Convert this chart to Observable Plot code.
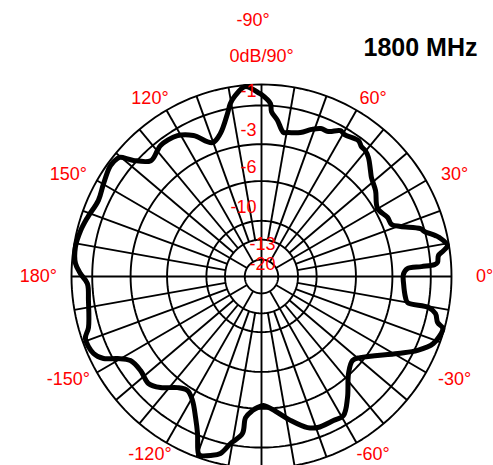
<!DOCTYPE html>
<html>
<head>
<meta charset="utf-8">
<script src="https://cdn.jsdelivr.net/npm/d3@7"></script>
<script src="https://cdn.jsdelivr.net/npm/@observablehq/plot@0.6"></script>
<style>
  html, body { margin: 0; padding: 0; background: #fff; }
  #chart { width: 493px; height: 465px; overflow: hidden; }
</style>
</head>
<body>
<div id="chart"></div>
<script>
// ---- data ----
const title = "1800 MHz";
const ringDb = [0, -1, -3, -6, -10, -13, -20];
const ringLabels = ["0dB/90°", "-1", "-3", "-6", "-10", "-13", "-20"];
const angleTicks = [0, 30, 60, 120, 150, 180, -150, -120, -60, -30];
const angleLabels = ["0°", "30°", "60°", "120°", "150°", "180°", "-150°", "-120°", "-60°", "-30°"];
const topLabel = "-90°";

const patternAngle = [0.8,3.1,3.5,3.9,4.5,6.7,8.0,9.4,12.2,13.1,15.3,16.6,19.6,21.6,24.9,30.1,36.7,41.7,43.9,47.8,50.2,52.1,54.2,59.4,61.3,65.0,68.0,71.0,74.7,79.3,81.2,82.2,84.1,86.5,87.0,90,91,94.9,98.3,100.3,101.9,106.2,110.3,116.0,121.1,127.9,130,134,138.1,140.1,140.9,144.0,149.8,155.2,161.5,165.9,171.2,176.0,179.1,-177.7,-172.2,-163.7,-160.8,-155.6,-152.8,-150.6,-147.6,-142.4,-136.9,-132.6,-127.4,-123.2,-119.3,-115.3,-112.4,-109.8,-109.0,-106.0,-103.2,-100.6,-97.0,-96.5,-93.9,-91.8,-89.1,-83.2,-78.5,-72.9,-69.4,-63.2,-59.2,-54.3,-47.8,-42.4,-39.1,-29.2,-25.1,-21.1,-16.4,-15.6,-14.5,-11.9,-10.4,-10.0,-8.2,-2.8];
const patternDb = [-2.43,-2.21,-1.47,-0.80,-0.65,-0.57,-0.30,-0.07,-0.38,-0.55,-1.02,-1.18,-2.13,-2.53,-2.58,-2.83,-2.41,-2.15,-1.94,-1.53,-1.37,-1.34,-1.18,-1.32,-1.25,-1.57,-1.59,-1.80,-2.12,-2.27,-2.31,-2.17,-1.73,-1.30,-0.90,-0.48,-0.39,-0.06,-0.43,-0.77,-1.23,-2.14,-2.46,-1.73,-1.34,-1.26,-1.37,-1.52,-0.87,-0.30,-0.22,-0.16,-0.35,-0.50,-0.31,-0.17,-0.08,-0.17,-0.43,-0.76,-0.74,-0.47,-0.17,-0.27,-0.60,-1.21,-1.73,-1.87,-1.75,-2.04,-2.61,-2.79,-2.48,-1.78,-1.07,-0.18,-0.13,-0.28,-0.49,-1.06,-1.66,-2.50,-2.89,-3.09,-3.27,-2.76,-2.25,-1.67,-1.50,-1.50,-1.48,-2.14,-3.11,-3.63,-3.30,-1.69,-0.85,-0.28,-0.06,-0.10,-0.39,-0.59,-0.97,-2.09,-2.24,-2.41];

// ---- radial scale (dB -> relative radius, as on the chart's grid) ----
const radius = d3.scaleLinear()
  .domain([-20, -13, -10, -6, -3, -1, 0])
  .range([0.088, 0.192, 0.29, 0.497, 0.689, 0.891, 1])
  .clamp(true);

const rad = a => a * Math.PI / 180;
const px = (a, r) => r * Math.cos(rad(a));
const py = (a, r) => r * Math.sin(rad(a));

const pattern = patternAngle.map((a, i) => ({a, db: patternDb[i]}));
const ringPts = ringDb.flatMap(db => d3.range(0, 361, 2).map(a => ({a, db})));
const spokes = d3.range(0, 360, 10).map(a => ({
  a,
  r0: a % 90 === 0 ? 0 : a % 30 === 0 ? radius(-20) : radius(-13)
}));
const ticks = angleTicks.map((a, i) => ({a, t: angleLabels[i]}));
const rings = ringDb.map((db, i) => ({db, t: ringLabels[i]}));
const labelRx = 1.174, labelRy = 1.07;
const red = "#ff0000";

const plot = Plot.plot({
  width: 493,
  height: 465,
  margin: 0,
  x: {domain: [-1, 1], range: [71, 451], axis: null},
  y: {domain: [-1, 1], range: [468, 84], axis: null},
  style: {fontFamily: "'Liberation Sans', Arial, sans-serif", background: "#fff", overflow: "hidden"},
  marks: [
    Plot.link(spokes, {
      x1: d => px(d.a, d.r0), y1: d => py(d.a, d.r0),
      x2: d => px(d.a, 1), y2: d => py(d.a, 1),
      stroke: "black", strokeWidth: 1.9
    }),
    Plot.line(ringPts, {
      x: d => px(d.a, radius(d.db)), y: d => py(d.a, radius(d.db)),
      z: "db", stroke: "black", strokeWidth: 1.9
    }),
    Plot.line(pattern, {
      x: d => px(d.a, radius(d.db)), y: d => py(d.a, radius(d.db)),
      curve: "catmull-rom-closed", stroke: "black", strokeWidth: 5,
      strokeLinejoin: "round"
    }),
    // 0 dB ring label (above the outer ring)
    Plot.text(rings.slice(0, 1), {
      x: 0, y: d => radius(d.db), text: "t",
      textAnchor: "middle", dy: -28, fill: red, fontSize: 18
    }),
    Plot.text(rings.slice(1, 5), {
      x: 0, y: d => radius(d.db), text: "t",
      textAnchor: "end", dx: -5, dy: -14, fill: red, fontSize: 18
    }),
    Plot.text(rings.slice(5), {
      x: 0, y: d => radius(d.db), text: "t",
      textAnchor: "middle", dx: 1, dy: 5, fill: red, fontSize: 18
    }),
    Plot.text(ticks, {
      x: d => px(d.a, labelRx), y: d => py(d.a, labelRy), text: "t",
      fill: red, fontSize: 18
    }),
    Plot.text([topLabel], {
      frameAnchor: "top", lineAnchor: "middle", dx: 6, dy: 20,
      fill: red, fontSize: 18
    }),
    Plot.text([title], {
      frameAnchor: "top-right", textAnchor: "end", lineAnchor: "middle",
      dx: -16, dy: 47, fontSize: 25, fontWeight: "bold", fill: "black"
    })
  ]
});
document.getElementById("chart").appendChild(plot);
</script>
</body>
</html>
